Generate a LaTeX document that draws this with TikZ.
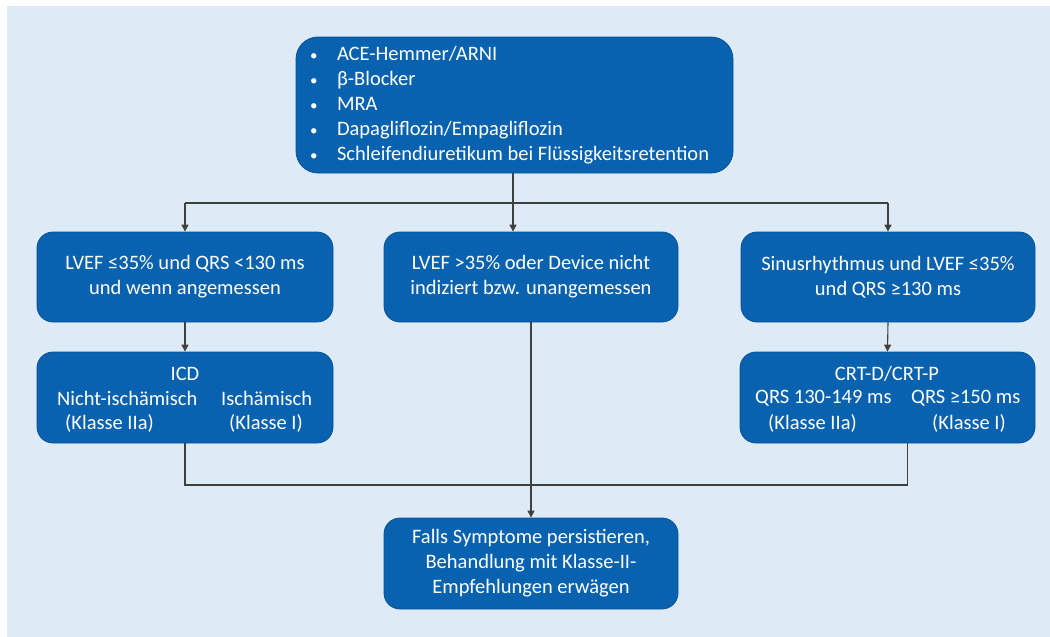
\documentclass[tikz,border=0pt]{standalone}
\usepackage{fontspec}
\setmainfont{Carlito}
\usetikzlibrary{positioning,arrows.meta,calc}
\definecolor{boxblue}{HTML}{0962AF}
\definecolor{bgblue}{HTML}{DEEBF7}
\definecolor{linegray}{HTML}{404040}
\newcommand{\listitem}{\makebox[27pt][l]{\fontsize{15}{15}\selectfont\textbullet}}

\begin{document}
\begin{tikzpicture}[
    x=1pt, y=-1pt,
    every node/.style={font=\fontsize{20.5}{25}\selectfont},
    box/.style={draw=boxblue!85!black, line width=0.8pt, rounded corners=16pt,
                fill=boxblue, text=white, align=center, inner sep=0pt},
    inner/.style={text=white, inner sep=0pt},
    conn/.style={draw=linegray, line width=1.1pt},
    arr/.style={conn, -{Triangle[width=7pt,length=7pt]}}
]
  \useasboundingbox (0,0) rectangle (1050,637);
  \fill[bgblue] (7,6) rectangle (1050,637);

  \node[box, rounded corners=22pt, align=flush left, text width=409pt, inner xsep=14pt,
        minimum height=136pt] (therapy) at (514.5,105) {%
    \listitem ACE-Hemmer/ARNI\\
    \listitem β-Blocker\\
    \listitem MRA\\
    \listitem Dapagliflozin/Empagliflozin\\
    \listitem Schleifendiuretikum bei Flüssigkeitsretention};

  \node[box, minimum width=296pt, minimum height=90pt] (lowqrs) at (185,277)
    {LVEF ≤35\% und QRS <130 ms\\und wenn angemessen};
  \node[box, minimum width=294pt, minimum height=90pt] (nodevice) at (531,277)
    {LVEF >35\% oder Device nicht\\indiziert bzw. unangemessen};
  \node[box, minimum width=294pt, minimum height=90pt] (sinus) at (888,277)
    {Sinusrhythmus und LVEF ≤35\%\\und QRS ≥130 ms};

  % ICD box
  \node[box, minimum width=296pt, minimum height=91pt] (icd) at (185,397.5) {};
  \node[inner] (icdtitle) at (185,374) {ICD};
  \node[inner, anchor=west] (icdnon) at (57,398) {Nicht-ischämisch};
  \node[inner, anchor=west] (icdisch) at (221,398) {Ischämisch};
  \node[inner, anchor=west] (icdnoncl) at (65,423) {(Klasse IIa)};
  \node[inner, anchor=west] (icdischcl) at (229,423) {(Klasse I)};

  % CRT box
  \node[box, minimum width=295pt, minimum height=91pt] (crt) at (887.5,397.5) {};
  \node[inner] (crttitle) at (887,374) {CRT-D/CRT-P};
  \node[inner, anchor=west] (crtmid) at (755,398) {QRS 130-149 ms};
  \node[inner, anchor=west] (crtwide) at (911,398) {QRS ≥150 ms};
  \node[inner, anchor=west] (crtmidcl) at (768,423) {(Klasse IIa)};
  \node[inner, anchor=west] (crtwidecl) at (932,423) {(Klasse I)};

  \node[box, minimum width=294pt, minimum height=91pt] (persist) at (531,563.5)
    {Falls Symptome persistieren,\\Behandlung mit Klasse-II-\\Empfehlungen erwägen};

  % connectors
  \coordinate (split) at (513,203);
  \coordinate (merge) at (531,485);
  \draw[arr] (therapy.south -| split) -- (nodevice.north -| split);
  \draw[conn] (lowqrs.north |- split) -- (sinus.north |- split);
  \draw[arr] (lowqrs.north |- split) -- (lowqrs.north);
  \draw[arr] (sinus.north |- split) -- (sinus.north);
  \draw[arr] (lowqrs.south) -- (icd.north);
  \draw[arr] (sinus.south) -- (crt.north);
  \draw[conn] (icd.south) -- (icd.south |- merge) -- ($(crt.south |- merge)+(20,0)$) -- ($(crt.south)+(20,0)$);
  \draw[arr] (nodevice.south) -- (persist.north);
\end{tikzpicture}
\end{document}
